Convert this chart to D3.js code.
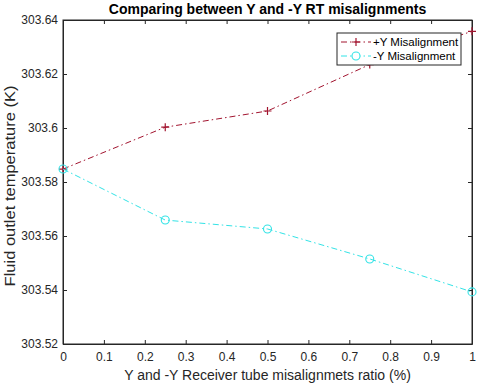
<!DOCTYPE html>
<html>
<head>
<meta charset="utf-8">
<script src="https://cdn.jsdelivr.net/npm/d3@7"></script>
<style>
  body { margin: 0; background: #fff; }
  text { font-family: "Liberation Sans", Arial, sans-serif; }
</style>
</head>
<body>
<script>
// Data
const ratios = [0, 0.25, 0.5, 0.75, 1];
const plusY = [303.5848, 303.6003, 303.6063, 303.6235, 303.6358];
const minusY = [303.5848, 303.5659, 303.5626, 303.5515, 303.5393];
const xTicks = [0, 0.1, 0.2, 0.3, 0.4, 0.5, 0.6, 0.7, 0.8, 0.9, 1];
const yTicks = [303.52, 303.54, 303.56, 303.58, 303.6, 303.62, 303.64];
const seriesNames = ["+Y Misalignment", "-Y Misalignment"];

const W = 480, H = 386;
const margin = { top: 20, right: 8, bottom: 42, left: 63 };
const width = W - margin.left - margin.right;
const height = H - margin.top - margin.bottom;

const svg = d3.select("body").append("svg")
  .attr("width", W)
  .attr("height", H);

const g = svg.append("g")
  .attr("transform", `translate(${margin.left},${margin.top})`);

const x = d3.scaleLinear().domain([0, 1]).range([0, width]);
const y = d3.scaleLinear().domain([303.52, 303.64]).range([height, 0]);

const fmt = v => String(+v.toFixed(2));
const tickCol = "#262626";

// axes with inward ticks on all four sides
g.append("g")
  .attr("transform", `translate(0,${height})`)
  .call(d3.axisBottom(x).tickValues(xTicks).tickFormat(fmt).tickSizeInner(-4).tickSizeOuter(0).tickPadding(8));
g.append("g")
  .call(d3.axisTop(x).tickValues(xTicks).tickFormat("").tickSizeInner(-4).tickSizeOuter(0));
g.append("g")
  .call(d3.axisLeft(y).tickValues(yTicks).tickFormat(fmt).tickSizeInner(-4).tickSizeOuter(0).tickPadding(5));
g.append("g")
  .attr("transform", `translate(${width},0)`)
  .call(d3.axisRight(y).tickValues(yTicks).tickFormat("").tickSizeInner(-4).tickSizeOuter(0));

g.selectAll(".domain").attr("stroke", tickCol);
g.selectAll(".tick line").attr("stroke", tickCol);
g.selectAll(".tick text")
  .attr("fill", tickCol)
  .style("font-size", "12px")
  .style("font-family", "Liberation Sans, Arial, sans-serif");

// box
g.append("rect")
  .attr("width", width)
  .attr("height", height)
  .attr("fill", "none")
  .attr("stroke", tickCol);

const red = "#a2142f", cyan = "#33e3e6";
const line = d3.line().x(d => x(d[0])).y(d => y(d[1]));

// +Y series
g.append("path")
  .datum(ratios.map((r, i) => [r, plusY[i]]))
  .attr("d", line)
  .attr("fill", "none")
  .attr("stroke", red)
  .attr("stroke-width", 1)
  .attr("stroke-dasharray", "6,3,1.5,3");

g.selectAll(".plus")
  .data(ratios.map((r, i) => [r, plusY[i]]))
  .enter().append("path")
  .attr("d", "M-4,0H4M0,-4V4")
  .attr("transform", d => `translate(${x(d[0])},${y(d[1])})`)
  .attr("stroke", red)
  .attr("stroke-width", 1.2);

// -Y series
g.append("path")
  .datum(ratios.map((r, i) => [r, minusY[i]]))
  .attr("d", line)
  .attr("fill", "none")
  .attr("stroke", cyan)
  .attr("stroke-width", 1)
  .attr("stroke-dasharray", "6,3,1.5,3");

g.selectAll(".circ")
  .data(ratios.map((r, i) => [r, minusY[i]]))
  .enter().append("circle")
  .attr("cx", d => x(d[0]))
  .attr("cy", d => y(d[1]))
  .attr("r", 4)
  .attr("fill", "none")
  .attr("stroke", cyan)
  .attr("stroke-width", 1.1);

// legend
const lg = g.append("g").attr("transform", `translate(${width - 135},13)`);
lg.append("rect")
  .attr("width", 124)
  .attr("height", 32)
  .attr("fill", "#fff")
  .attr("stroke", tickCol);

[[red, "plus"], [cyan, "circle"]].forEach(([c, m], i) => {
  const yy = 9 + i * 14;
  lg.append("line")
    .attr("x1", 4).attr("x2", 34).attr("y1", yy).attr("y2", yy)
    .attr("stroke", c)
    .attr("stroke-dasharray", "6,3,1.5,3");
  if (m === "plus") {
    lg.append("path").attr("d", `M15,${yy}h8M19,${yy - 4}v8`).attr("stroke", c).attr("stroke-width", 1.2);
  } else {
    lg.append("circle").attr("cx", 19).attr("cy", yy).attr("r", 4)
      .attr("fill", "#fff").attr("stroke", c).attr("stroke-width", 1.1);
  }
  lg.append("text")
    .attr("x", 36).attr("y", yy)
    .attr("dy", "0.35em")
    .style("font-size", "11.5px")
    .attr("fill", "#000")
    .text(seriesNames[i]);
});

// title and axis labels
svg.append("text")
  .attr("x", margin.left + width / 2)
  .attr("y", 14)
  .attr("text-anchor", "middle")
  .style("font-size", "14px")
  .style("font-weight", "bold")
  .text("Comparing between Y and -Y RT misalignments");

svg.append("text")
  .attr("x", margin.left + width / 2)
  .attr("y", 380)
  .attr("text-anchor", "middle")
  .style("font-size", "14px")
  .attr("fill", tickCol)
  .text("Y and -Y Receiver tube misalignmets ratio (%)");

svg.append("text")
  .attr("transform", `translate(15,${margin.top + height / 2 + 4}) rotate(-90) scale(1.18,1)`)
  .attr("text-anchor", "middle")
  .style("font-size", "14px")
  .attr("fill", tickCol)
  .text("Fluid outlet temperature (K)");
</script>
</body>
</html>
